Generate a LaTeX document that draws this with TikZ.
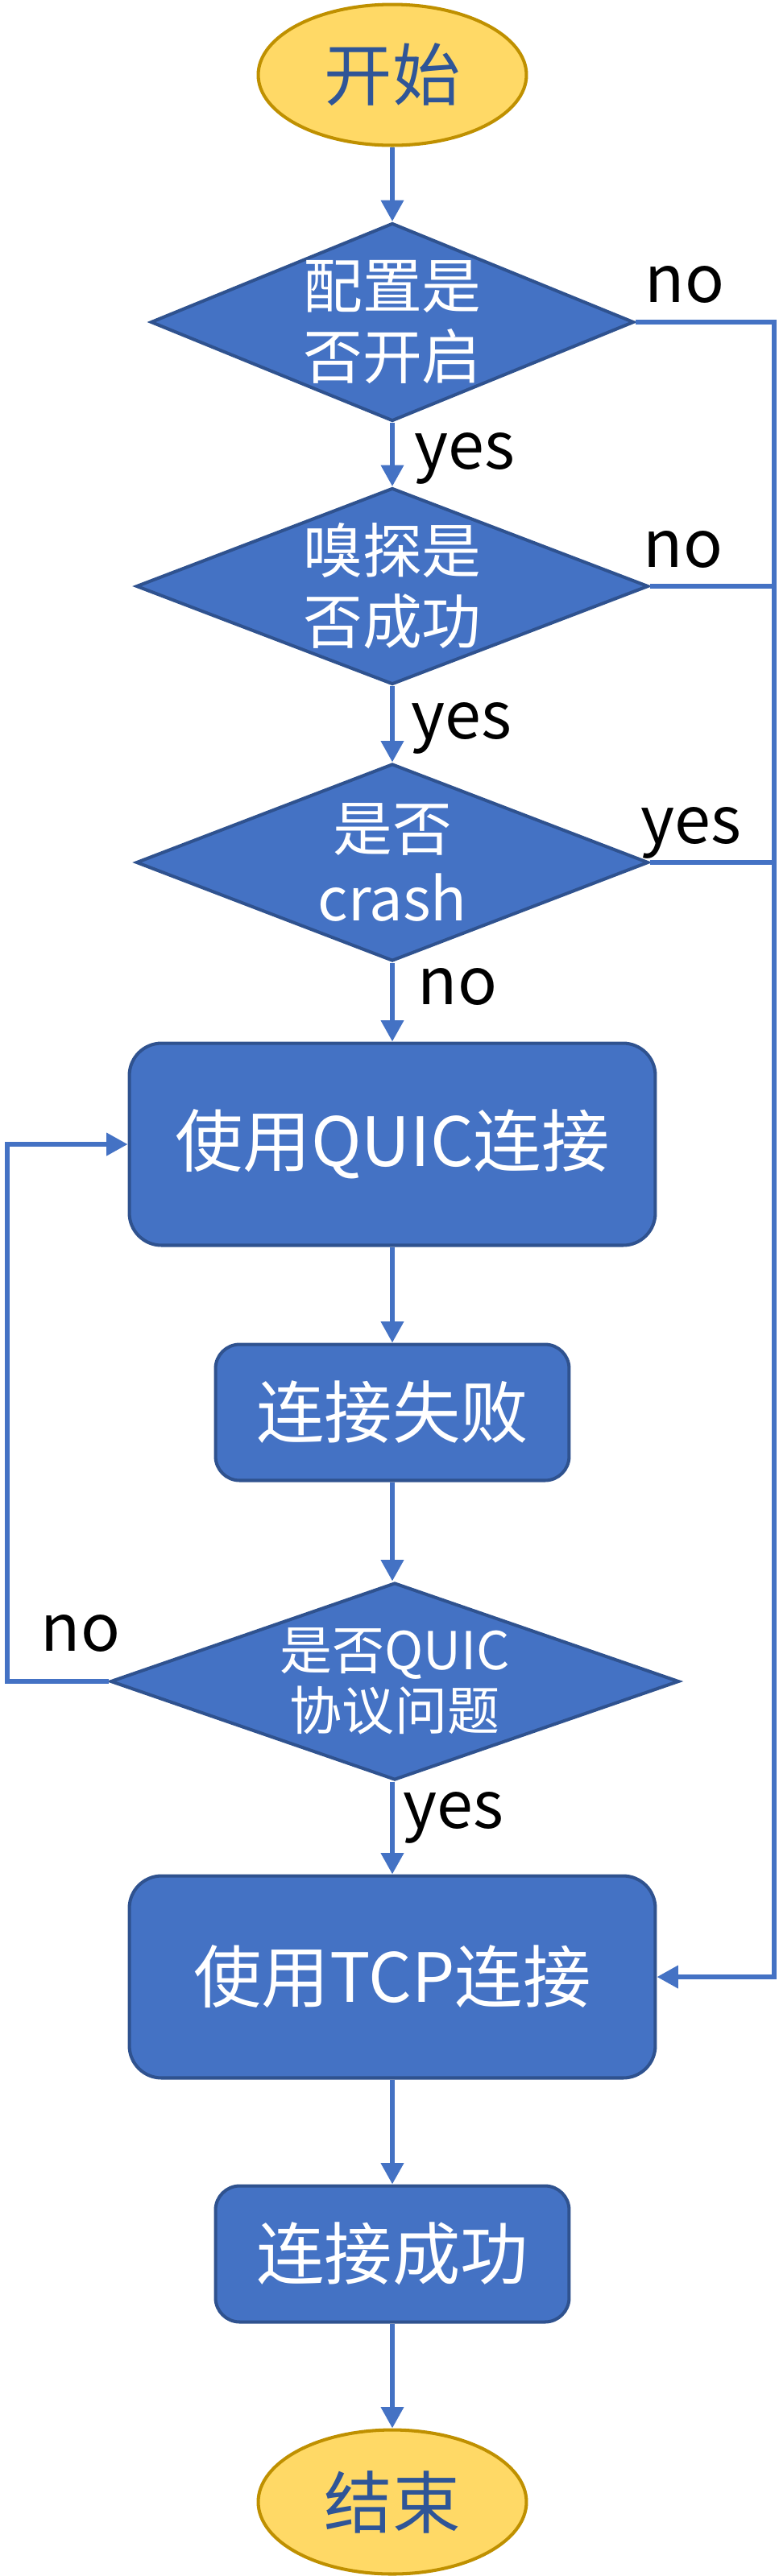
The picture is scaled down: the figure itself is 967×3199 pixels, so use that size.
\documentclass[tikz,border=0pt]{standalone}
\usepackage{fontspec}
\setmainfont{Noto Sans CJK SC}
\usetikzlibrary{shapes.geometric, arrows.meta}
\definecolor{boxblue}{HTML}{4472C4}
\definecolor{boxedge}{HTML}{2F528F}
\definecolor{termfill}{HTML}{FFD966}
\definecolor{termedge}{HTML}{BF9000}
\definecolor{termtext}{HTML}{2F5597}

\begin{document}
\begin{tikzpicture}[x=0.02cm, y=-0.02cm,
  term/.style={ellipse, draw=termedge, fill=termfill, line width=2.3pt, text=termtext, inner sep=0pt, font=\fontsize{48}{56}\selectfont, minimum width=6.66cm, minimum height=3.5cm},
  decision/.style={diamond, draw=boxedge, fill=boxblue, line width=2.3pt, text=white, align=center, inner sep=0pt, font=\fontsize{42}{50}\selectfont},
  process/.style={rectangle, rounded corners=0.8cm, draw=boxedge, fill=boxblue, line width=2.3pt, text=white, font=\fontsize{48}{56}\selectfont, minimum width=13.06cm, minimum height=5.02cm},
  outcome/.style={process, rounded corners=0.6cm, minimum width=8.78cm, minimum height=3.38cm},
  flow/.style={draw=boxblue, line width=3.4pt, -{Triangle[length=15pt, width=15.5pt]}},
  conn/.style={draw=boxblue, line width=3.4pt},
  lbl/.style={anchor=base, font=\fontsize{46}{54}\selectfont}
]
\useasboundingbox (0, 0) rectangle (967, 3199);

% nodes
\node[term] (start) at (487, 93) {开始};
\node[decision, minimum width=12cm, minimum height=4.92cm, aspect=2.44] (d1) at (487, 400) {配置是\\否开启};
\node[decision, minimum width=12.72cm, minimum height=4.88cm, aspect=2.6] (d2) at (487, 728) {嗅探是\\否成功};
\node[decision, minimum width=12.72cm, minimum height=4.9cm, aspect=2.6] (d3) at (487, 1071) {是否\\crash};
\node[process] (quic) at (487, 1421) {使用QUIC连接};
\node[outcome] (fail) at (487, 1754) {连接失败};
\node[decision, minimum width=14.12cm, minimum height=4.9cm, aspect=2.88, font=\fontsize{37}{43}\selectfont] (d4) at (490, 2088) {是否QUIC\\协议问题};
\node[process] (tcp) at (487, 2455) {使用TCP连接};
\node[outcome] (ok) at (487, 2799) {连接成功};
\node[term, minimum height=3.58cm] (end) at (487, 3107) {结束};

% main flow
\draw[flow] (start) -- (d1);
\draw[flow] (d1) -- (d2);
\draw[flow] (d2) -- (d3);
\draw[flow] (d3) -- (quic);
\draw[flow] (quic) -- (fail);
\draw[flow] (fail) -- (d4.north -| fail.south);
\draw[flow] (d4.south -| tcp.north) -- (tcp);
\draw[flow] (tcp) -- (ok);
\draw[flow] (ok) -- (end);

% right branch to TCP
\coordinate (rt) at (961, 2455);
\draw[flow] (d1.east) -| (rt) -- (tcp.east);
\draw[conn] (d2.east) -- (d2.east -| rt);
\draw[conn] (d3.east) -- (d3.east -| rt);

% retry loop
\coordinate (lt) at (9, 2088);
\draw[flow] (d4.west) -- (lt) |- (quic.west);

% labels
\node[lbl] (no1) at (850, 375) {no};
\node[lbl] (yes1) at (577, 582) {yes};
\node[lbl] (no2) at (848, 704) {no};
\node[lbl] (yes2) at (573, 917) {yes};
\node[lbl] (yes3) at (858, 1047) {yes};
\node[lbl] (no3) at (568, 1247) {no};
\node[lbl] (no4) at (100, 2050) {no};
\node[lbl] (yes4) at (563, 2270) {yes};

\end{tikzpicture}
\end{document}
